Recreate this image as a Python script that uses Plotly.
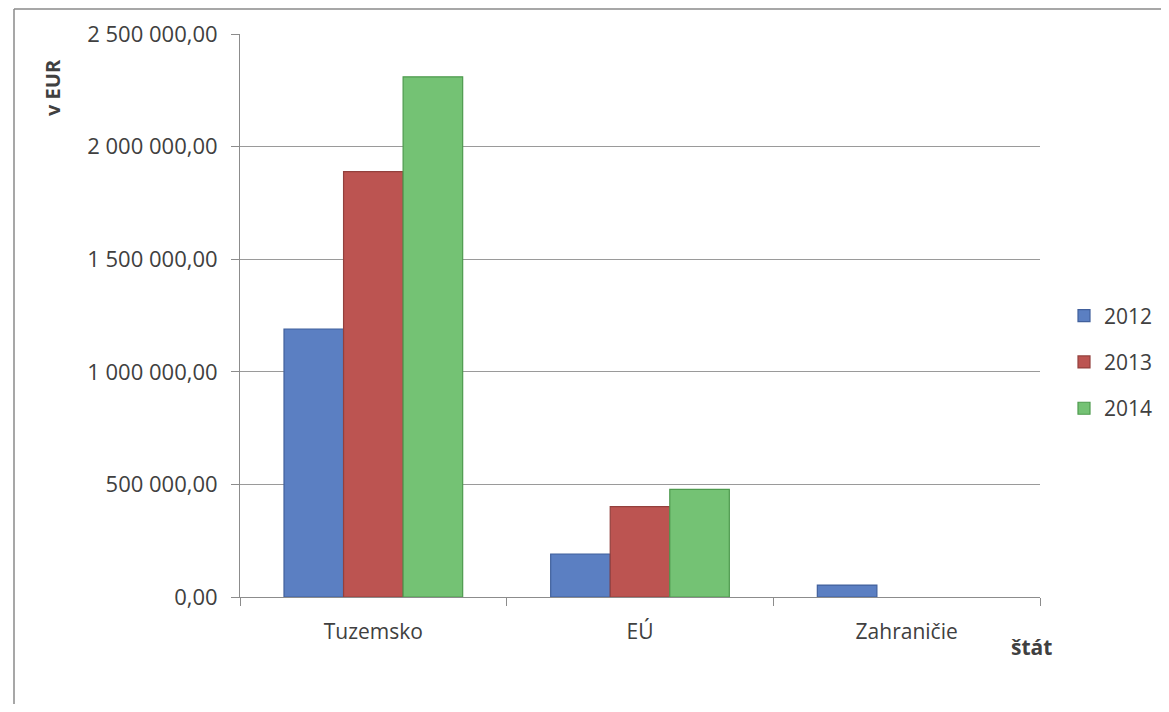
import plotly.graph_objects as go

categories = ["Tuzemsko", "EÚ", "Zahraničie"]
years = ["2012", "2013", "2014"]
values_2012 = [1190000, 191000, 53000]
values_2013 = [1889000, 401000, 0]
values_2014 = [2310000, 478000, 0]
y_ticks = [0, 500000, 1000000, 1500000, 2000000, 2500000]

colors = ["#5b7fc2", "#bc5451", "#74c274"]
edge = ["#41609c", "#93403d", "#4e9a4e"]

# the page body has an 8px default margin; positions below are viewport pixels
OFF = 8
W, H = 1169 - OFF, 712 - 2 * OFF
L, R, T, B = 240 - OFF, 1040 - OFF, 34 - OFF, 597 - OFF

def px_x(p):
    return ((p - OFF) - L) / (R - L)

def px_y(p):
    return (B - (p - OFF)) / (B - T)

fig = go.Figure()
for i, (name, vals) in enumerate(zip(years, [values_2012, values_2013, values_2014])):
    fig.add_trace(go.Bar(
        x=categories, y=vals, name=name,
        marker=dict(color=colors[i],
                    line=dict(color=edge[i], width=[1.2 if v else 0 for v in vals])),
        legendgroup=name,
    ))

fig.update_layout(
    width=W, height=H,
    margin=dict(l=L, r=W - R, t=T, b=H - B, pad=0, autoexpand=False),
    paper_bgcolor="white", plot_bgcolor="white",
    barmode="group", bargap=0.33, bargroupgap=0,
    separators=", ",
    font=dict(family="Open Sans, Noto Sans, sans-serif", size=21, color="#404040"),
    showlegend=True,
    legend=dict(
        x=px_x(1064), xanchor="left", y=px_y(362), yanchor="middle",
        font=dict(size=21, color="#404040"),
        tracegroupgap=16, itemwidth=30, bgcolor="rgba(0,0,0,0)",
    ),
    xaxis=dict(
        showgrid=False, showline=True, linecolor="#8c8c8c", linewidth=1,
        ticks="outside", ticklen=8, tickcolor="#8c8c8c", tickson="boundaries",
        ticklabelstandoff=16, tickfont=dict(size=21, color="#404040"),
    ),
    yaxis=dict(
        range=[0, 2500000], tickvals=y_ticks, tickformat=",.2f",
        showgrid=True, gridcolor="#9a9a9a", gridwidth=1,
        showline=True, linecolor="#8c8c8c", linewidth=1,
        ticks="outside", ticklen=8, tickcolor="#8c8c8c",
        ticklabelstandoff=9, zeroline=False,
        tickfont=dict(size=22, color="#404040"),
    ),
    annotations=[
        dict(text="<b>v EUR</b>", textangle=-90, x=px_x(53), y=px_y(88),
             xanchor="center", yanchor="middle",
             xref="paper", yref="paper", showarrow=False,
             font=dict(size=20, color="#404040")),
        dict(text="<b>štát</b>", x=px_x(1031), y=px_y(647),
             xanchor="center", yanchor="middle",
             xref="paper", yref="paper", showarrow=False,
             font=dict(size=21, color="#404040")),
    ],
    shapes=[
        dict(type="line", xref="paper", yref="paper",
             x0=px_x(14), y0=px_y(9), x1=px_x(1169), y1=px_y(9),
             line=dict(color="#8a8a8a", width=1.5)),
        dict(type="line", xref="paper", yref="paper",
             x0=px_x(14), y0=px_y(9), x1=px_x(14), y1=px_y(704),
             line=dict(color="#8a8a8a", width=1.5)),
    ],
)

fig.write_html("out.html")
